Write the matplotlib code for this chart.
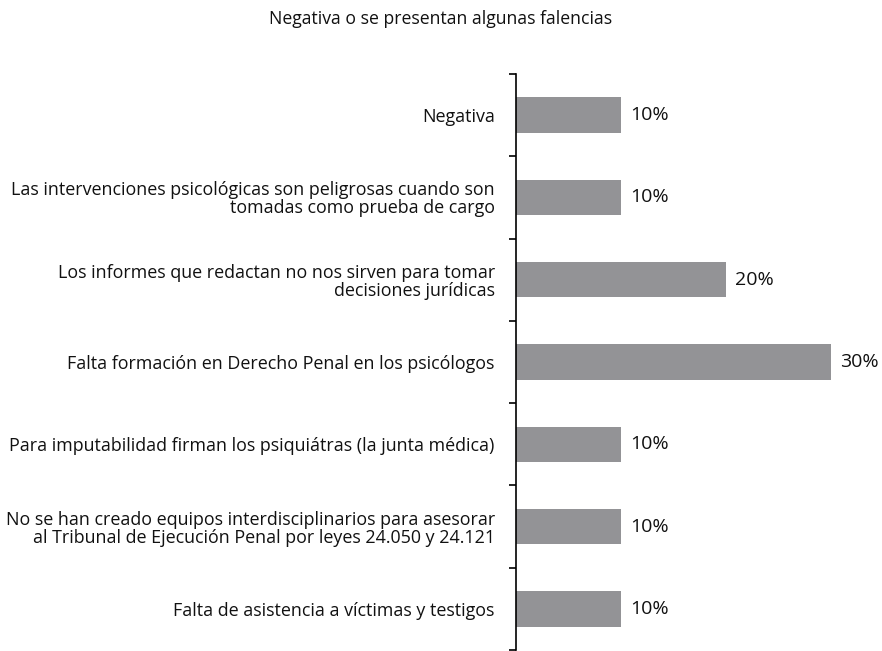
import matplotlib
matplotlib.use("Agg")
import matplotlib.pyplot as plt
import numpy as np

# data
categories = [
    "Negativa",
    "Las intervenciones psicológicas son peligrosas cuando son\ntomadas como prueba de cargo",
    "Los informes que redactan no nos sirven para tomar\ndecisiones jurídicas",
    "Falta formación en Derecho Penal en los psicólogos",
    "Para imputabilidad firman los psiquiátras (la junta médica)",
    "No se han creado equipos interdisciplinarios para asesorar\nal Tribunal de Ejecución Penal por leyes 24.050 y 24.121",
    "Falta de asistencia a víctimas y testigos",
]
values = [10, 10, 20, 30, 10, 10, 10]
title = "Negativa o se presentan algunas falencias"

plt.rcParams['font.family'] = ['Open Sans', 'DejaVu Sans']

fig = plt.figure(figsize=(8.82, 6.51), dpi=100)
ax = fig.add_axes([515.7 / 882, 1 - 650 / 651, 1 - 515.7 / 882, 576 / 651])

pos = np.arange(len(categories))
ax.barh(pos, values, height=0.43, color="#939396")

for p, v in zip(pos, values):
    ax.text(v + 0.9, p, f"{v}%", va="center", ha="left", fontsize=14, color="#111111")

ax.set_ylim(len(categories) - 0.5, -0.5)
ax.set_xlim(0, 34.9)

# boundary ticks on the axis, labels at the centres
ax.set_yticks(np.arange(len(categories) + 1) - 0.5)
ax.set_yticklabels([])
ax.tick_params(axis="y", which="major", length=5, width=1.2, direction="out")
ax.set_yticks(pos, minor=True)
ax.set_yticklabels(categories, minor=True, fontsize=12.9, color="#111111",
                   multialignment="right", linespacing=1.0)
ax.tick_params(axis="y", which="minor", length=0, pad=15)

ax.set_xticks([])
for s in ["top", "right", "bottom"]:
    ax.spines[s].set_visible(False)
ax.spines["left"].set_linewidth(1.2)

fig.text(0.5, 1 - 19 / 651, title, ha="center", va="center", fontsize=12.7, color="#111111")

fig.savefig("out.png", dpi=100)
